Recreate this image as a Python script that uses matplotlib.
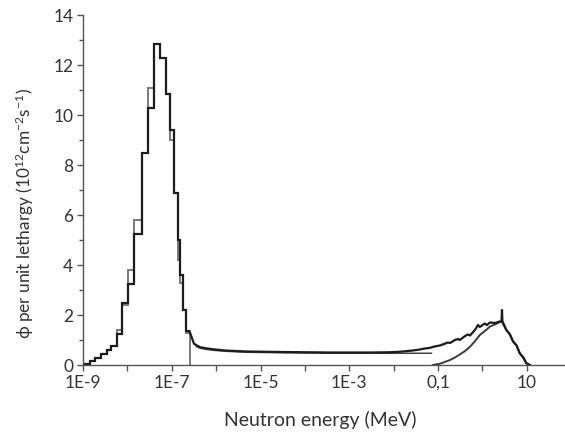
import numpy as np
import matplotlib
matplotlib.use('Agg')
import matplotlib.pyplot as plt
from matplotlib.ticker import FixedLocator, FixedFormatter, MultipleLocator

plt.rcParams['font.family'] = ['Lato', 'DejaVu Sans']
plt.rcParams['mathtext.default'] = 'regular'

# thermal peak, histogram bins (log10 of energy in MeV)
thermal_edges = [-9.0, -8.85, -8.72, -8.60, -8.47, -8.36, -8.24, -8.13, -7.98, -7.84, -7.68,
                 -7.54, -7.40, -7.27, -7.14, -7.05, -6.96, -6.86, -6.81, -6.75, -6.68, -6.60]
thermal_black = [0.05, 0.15, 0.3, 0.45, 0.6, 0.75, 1.25, 2.5, 3.25, 5.25, 8.5,
                 10.3, 12.85, 12.3, 10.85, 9.4, 6.9, 5.0, 3.6, 2.2, 1.35]
thermal_gray = [0.05, 0.15, 0.3, 0.45, 0.6, 0.75, 1.4, 2.4, 3.8, 5.8, 8.5,
                11.1, 12.85, 12.3, 10.85, 9.0, 6.9, 4.2, 3.3, 2.2, 1.3]

# black curve: epithermal plateau + fast peak
tail_logE = [-6.60, -6.50, -6.36, -6.20, -6.07, -5.80, -5.31, -4.50, -3.44, -2.50, -2.09,
             -1.86, -1.57, -1.41, -1.30, -1.20, -1.08, -0.96, -0.85, -0.78, -0.73, -0.62,
             -0.55, -0.51, -0.40, -0.33, -0.28, -0.17, -0.10, -0.06, 0.05, 0.10, 0.17,
             0.28, 0.39, 0.43, 0.44, 0.45, 0.54, 0.62, 0.69, 0.77, 0.84, 0.92, 0.99, 1.07]
tail_black = [1.35, 0.85, 0.71, 0.66, 0.63, 0.58, 0.54, 0.52, 0.50, 0.50, 0.51,
              0.53, 0.58, 0.62, 0.66, 0.68, 0.74, 0.78, 0.85, 0.90, 0.88, 1.00,
              1.04, 1.00, 1.15, 1.22, 1.18, 1.40, 1.60, 1.52, 1.66, 1.60, 1.70,
              1.68, 1.74, 1.75, 2.20, 1.75, 1.40, 1.22, 0.94, 0.78, 0.47, 0.30, 0.07, 0.0]

# gray curve: plateau just under the black one, ending near 0.07 MeV
plateau_logE = [-6.45, -6.36, -6.20, -6.07, -5.80, -5.31, -4.50, -3.44, -2.50, -2.09, -1.86, -1.57, -1.15]
plateau_gray = [0.74, 0.67, 0.62, 0.59, 0.55, 0.51, 0.49, 0.47, 0.47, 0.47, 0.47, 0.47, 0.47]

# gray curve: fast peak
fast_logE = [-1.12, -0.96, -0.85, -0.73, -0.62, -0.51, -0.40, -0.28, -0.17, -0.06, 0.05,
             0.17, 0.28, 0.39, 0.43, 0.54, 0.62, 0.69, 0.77, 0.84, 0.92, 0.99, 1.07]
fast_gray = [0.0, 0.05, 0.12, 0.20, 0.30, 0.42, 0.55, 0.73, 0.95, 1.20, 1.35,
             1.54, 1.62, 1.72, 1.75, 1.40, 1.22, 0.94, 0.78, 0.47, 0.30, 0.07, 0.0]

xtick_exp = list(range(-9, 2))
xtick_labels = ['1E-9', '', '1E-7', '', '1E-5', '', '1E-3', '', '0,1', '', '10']

black = '#1c1c1c'
gray = '#7a7a7a'

fig = plt.figure(figsize=(5.65, 4.32), dpi=100)
ax = fig.add_axes([83 / 565, 67 / 432, (565 - 83) / 565, (365 - 15) / 432])

e = 10.0 ** np.array(thermal_edges)
ax.stairs(thermal_gray, e, baseline=0, color=gray, lw=1.4)
ax.plot(10.0 ** np.array(plateau_logE), plateau_gray, color='#444444', lw=1.1)
ax.plot(10.0 ** np.array(fast_logE), fast_gray, color='#3a3a3a', lw=1.4)
ax.stairs(thermal_black, e, baseline=None, color=black, lw=1.6)
ax.plot(10.0 ** np.array(tail_logE), tail_black, color=black, lw=1.6)

ax.set_xscale('log')
ax.set_xlim(1e-9, 10 ** 1.86)
ax.set_ylim(0, 14)

ax.xaxis.set_major_locator(FixedLocator([10.0 ** k for k in xtick_exp]))
ax.xaxis.set_major_formatter(FixedFormatter(xtick_labels))
ax.xaxis.set_minor_locator(FixedLocator([]))
ax.yaxis.set_major_locator(MultipleLocator(2))
ax.yaxis.set_minor_locator(MultipleLocator(1))

for s in ['top', 'right']:
    ax.spines[s].set_visible(False)
for s in ['left', 'bottom']:
    ax.spines[s].set_color('#555555')
    ax.spines[s].set_linewidth(1.0)
ax.tick_params(which='major', direction='out', length=4, width=1, color='#555555',
               labelsize=12.5, labelcolor='#333333', pad=3)
ax.tick_params(which='minor', direction='out', length=3, width=1, color='#555555')

fig.text(25 / 565, 1 - 214 / 432, 'ϕ per unit lethargy (10$^{12}$cm$^{-2}$s$^{-1}$)',
         rotation=90, ha='center', va='center', fontsize=12.4, color='#333333')
fig.text(320 / 565, 1 - 420 / 432, 'Neutron energy (MeV)', ha='center', va='center',
         fontsize=14, color='#333333')

fig.savefig('out.png', dpi=100)
